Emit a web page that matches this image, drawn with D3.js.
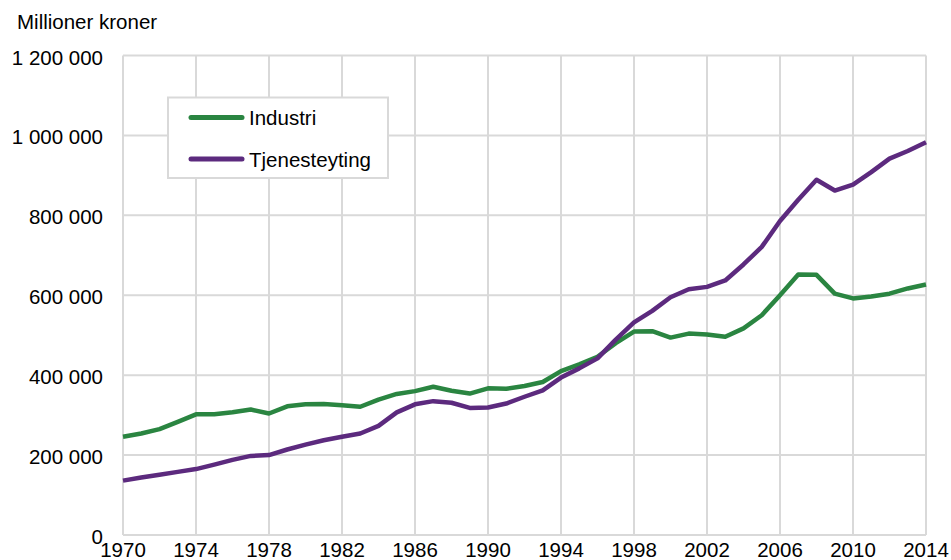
<!DOCTYPE html>
<html>
<head>
<meta charset="utf-8">
<script src="https://cdn.jsdelivr.net/npm/d3@7"></script>
<style>
  html, body { margin: 0; padding: 0; background: #fff; }
  svg { display: block; font-family: "Liberation Sans", Arial, sans-serif; }
</style>
</head>
<body>
<svg id="chart" width="951" height="560"></svg>
<script>
const years = d3.range(1970, 2015);
const industri = [
  246000, 254000, 265000, 283000, 302000, 302000, 307000, 314000, 304000, 322000,
  327000, 328000, 325000, 321000, 339000, 353000, 360000, 371000, 361000, 354000,
  367000, 366000, 373000, 383000, 410000, 427000, 446000, 480000, 509000, 510000,
  494000, 504000, 502000, 496000, 517000, 550000, 600000, 652000, 651000, 604000,
  592000, 597000, 604000, 617000, 627000
];
const tjenesteyting = [
  136000, 144000, 151000, 158000, 165000, 176000, 188000, 198000, 200000, 214000,
  226000, 237000, 246000, 254000, 273000, 307000, 327000, 335000, 331000, 318000,
  319000, 329000, 346000, 362000, 394000, 417000, 442000, 489000, 532000, 561000,
  595000, 615000, 621000, 637000, 677000, 721000, 786000, 839000, 889000, 862000,
  877000, 908000, 942000, 961000, 983000
];
const seriesNames = ["Industri", "Tjenesteyting"];
const seriesColors = ["#2a8541", "#5c2a7e"];
const yTicks = [0, 200000, 400000, 600000, 800000, 1000000, 1200000];
const xTicks = [1970, 1974, 1978, 1982, 1986, 1990, 1994, 1998, 2002, 2006, 2010, 2014];
const yTitle = "Millioner kroner";

(function () {
const svg = d3.select("#chart");
const pL = 123, pR = 926, pT = 55.5, pB = 535;
const x = d3.scaleLinear().domain([1970, 2014]).range([pL, pR]);
const y = d3.scaleLinear().domain([0, 1200000]).range([pB, pT]);
const fmt = v => d3.format(",")(v).replace(/,/g, " ");
const grid = "#d9d9d9";
const fs = "20.5px";

// grid
svg.append("g").selectAll("line").data(yTicks).join("line")
  .attr("x1", pL).attr("x2", pR)
  .attr("y1", d => y(d)).attr("y2", d => y(d))
  .attr("stroke", grid).attr("stroke-width", 2);
svg.append("g").selectAll("line").data(xTicks).join("line")
  .attr("x1", d => x(d)).attr("x2", d => x(d))
  .attr("y1", pT).attr("y2", pB)
  .attr("stroke", grid).attr("stroke-width", 2);

// y labels
svg.append("g").selectAll("text").data(yTicks).join("text")
  .attr("x", 103).attr("y", d => y(d) + 1.5)
  .attr("text-anchor", "end").attr("dominant-baseline", "central")
  .attr("font-size", fs).attr("fill", "#000")
  .text(fmt);

// x labels
svg.append("g").selectAll("text").data(xTicks).join("text")
  .attr("x", d => x(d)).attr("y", 557)
  .attr("text-anchor", "middle")
  .attr("font-size", fs).attr("fill", "#000")
  .text(d => d);

// title
svg.append("text").attr("x", 17).attr("y", 29)
  .attr("font-size", fs).attr("fill", "#000").text(yTitle);

// lines
const line = d3.line().x((d, i) => x(years[i])).y(d => y(d));
[industri, tjenesteyting].forEach((s, i) => {
  svg.append("path").datum(s)
    .attr("d", line)
    .attr("fill", "none")
    .attr("stroke", seriesColors[i])
    .attr("stroke-width", 4.5)
    .attr("stroke-linejoin", "round")
    .attr("stroke-linecap", "butt");
});

// legend
const lg = svg.append("g");
lg.append("rect").attr("x", 168).attr("y", 97.5).attr("width", 220).attr("height", 80.5)
  .attr("fill", "#fff").attr("stroke", grid).attr("stroke-width", 2);
const ly = [117.5, 159];
seriesNames.forEach((n, i) => {
  lg.append("line").attr("x1", 191).attr("x2", 242).attr("y1", ly[i]).attr("y2", ly[i])
    .attr("stroke", seriesColors[i]).attr("stroke-width", 5).attr("stroke-linecap", "round");
  lg.append("text").attr("x", 249).attr("y", ly[i])
    .attr("dominant-baseline", "central").attr("font-size", fs).attr("fill", "#000")
    .text(n);
});
})();
</script>
</body>
</html>
